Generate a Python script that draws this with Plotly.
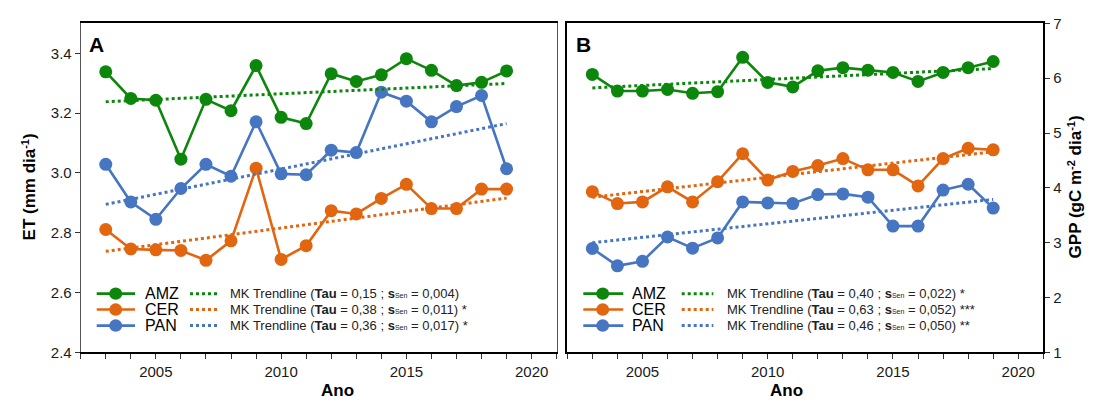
import plotly.graph_objects as go

# ---------------- data ----------------
years = list(range(2003, 2020))
series = ["AMZ", "CER", "PAN"]

et_amz = [3.338, 3.249, 3.243, 3.046, 3.246, 3.208, 3.359, 3.186, 3.165, 3.332, 3.306, 3.328, 3.382, 3.343, 3.292, 3.303, 3.341]
et_cer = [2.811, 2.746, 2.743, 2.741, 2.708, 2.773, 3.016, 2.711, 2.757, 2.874, 2.863, 2.915, 2.962, 2.881, 2.881, 2.946, 2.946]
et_pan = [3.029, 2.903, 2.845, 2.948, 3.029, 2.989, 3.171, 2.997, 2.994, 3.076, 3.068, 3.270, 3.240, 3.171, 3.222, 3.259, 3.014]

gpp_amz = [6.070, 5.766, 5.766, 5.795, 5.725, 5.754, 6.381, 5.924, 5.842, 6.135, 6.193, 6.146, 6.105, 5.941, 6.105, 6.193, 6.305]
gpp_cer = [3.932, 3.715, 3.745, 4.020, 3.745, 4.114, 4.623, 4.143, 4.301, 4.407, 4.535, 4.330, 4.330, 4.037, 4.535, 4.723, 4.694]
gpp_pan = [2.895, 2.579, 2.661, 3.105, 2.901, 3.088, 3.745, 3.727, 3.715, 3.879, 3.891, 3.832, 3.304, 3.304, 3.961, 4.067, 3.632]

trend_years = [2003, 2019]
et_trend = {"AMZ": [3.238, 3.299], "CER": [2.738, 2.916], "PAN": [2.895, 3.165]}
gpp_trend = {"AMZ": [5.824, 6.176], "CER": [3.830, 4.660], "PAN": [3.000, 3.790]}

et_tau = ["0,15", "0,38", "0,36"]
et_sen = ["0,004", "0,011", "0,017"]
et_sig = ["", " *", " *"]
gpp_tau = ["0,40", "0,63", "0,46"]
gpp_sen = ["0,022", "0,052", "0,050"]
gpp_sig = [" *", " ***", " **"]

et_ticks = [2.4, 2.6, 2.8, 3.0, 3.2, 3.4]
gpp_ticks = [1, 2, 3, 4, 5, 6, 7]
year_ticks = [2005, 2010, 2015, 2020]

# ---------------- styling ----------------
colors = {"AMZ": "#0c870c", "CER": "#e2650f", "PAN": "#4675c2"}
FONT = "Liberation Sans, Arial, sans-serif"
W, H = 1101, 418

def px(x):
    return x / W

def py(y):
    return 1 - y / H

fig = go.Figure()

et_vals = {"AMZ": et_amz, "CER": et_cer, "PAN": et_pan}
gpp_vals = {"AMZ": gpp_amz, "CER": gpp_cer, "PAN": gpp_pan}

for vals, trends, xa, ya in [(et_vals, et_trend, "x", "y"), (gpp_vals, gpp_trend, "x2", "y2")]:
    for s in series:
        fig.add_trace(go.Scatter(
            x=years, y=vals[s], mode="lines+markers", name=s,
            line=dict(color=colors[s], width=2.6),
            marker=dict(color=colors[s], size=13),
            xaxis=xa, yaxis=ya, showlegend=False))
    for s in series:
        fig.add_trace(go.Scatter(
            x=trend_years, y=trends[s], mode="lines", name=s + " MK Trendline",
            line=dict(color=colors[s], width=3, dash="dot"),
            xaxis=xa, yaxis=ya, showlegend=False))

# domains
xA = [px(80.7), px(556.7)]
xB = [px(567.3), px(1043.3)]
yD = [py(358), py(15)]

tickfont = dict(family=FONT, size=15, color="#1a1a1a")
common_x = dict(range=[2002, 2021], tickmode="array", tickvals=year_ticks,
                ticks="outside", ticklen=5, tickwidth=1, tickcolor="#333",
                minor=dict(dtick=1, tick0=2002, ticks="outside", ticklen=5, tickcolor="#333", showgrid=False),
                showgrid=False, zeroline=False, tickfont=tickfont,
                showline=True, mirror=True, linecolor="black", linewidth=2)

fig.update_layout(
    width=W, height=H,
    margin=dict(l=0, r=0, t=0, b=0),
    paper_bgcolor="white", plot_bgcolor="white",
    font=dict(family=FONT, color="black"),
    xaxis=dict(domain=xA, anchor="y", **common_x),
    xaxis2=dict(domain=xB, anchor="y2", **common_x),
    yaxis=dict(domain=yD, anchor="x", range=[2.4, 3.5], tickmode="array", tickvals=et_ticks,
               ticktext=[f"{v:.1f}" for v in et_ticks],
               ticks="outside", ticklen=5, tickcolor="#333", showgrid=False, zeroline=False,
               tickfont=tickfont, showline=True, mirror=True, linecolor="#555", linewidth=1),
    yaxis2=dict(domain=yD, anchor="x2", side="right", range=[1, 7], tickmode="array", tickvals=gpp_ticks,
                ticks="outside", ticklen=5, tickcolor="#333", showgrid=False, zeroline=False,
                tickfont=tickfont, showline=True, mirror=True, linecolor="black", linewidth=2),
)

ann = []
shapes = []

SUP = "font-size:11px;baseline-shift:super"

# panel letters
ann.append(dict(text="<b>A</b>", x=px(87), y=py(37), xref="paper", yref="paper", xanchor="left",
                yanchor="middle", showarrow=False, font=dict(family=FONT, size=21, color="black")))
ann.append(dict(text="<b>B</b>", x=px(574), y=py(37), xref="paper", yref="paper", xanchor="left",
                yanchor="middle", showarrow=False, font=dict(family=FONT, size=21, color="black")))

# axis titles
ann.append(dict(text="<b>Ano</b>", x=(xA[0] + xA[1]) / 2, y=py(410), xref="paper", yref="paper",
                showarrow=False, font=dict(family=FONT, size=17, color="black")))
ann.append(dict(text="<b>Ano</b>", x=(xB[0] + xB[1]) / 2, y=py(410), xref="paper", yref="paper",
                showarrow=False, font=dict(family=FONT, size=17, color="black")))
ann.append(dict(text=f"<b>ET (mm dia<span style='{SUP}'>-1</span>)</b>", x=px(17), y=py(186),
                xref="paper", yref="paper", textangle=-90, showarrow=False,
                font=dict(family=FONT, size=17, color="black")))
ann.append(dict(text=f"<b>GPP (gC m<span style='{SUP}'>-2</span> dia<span style='{SUP}'>-1</span>)</b>",
                x=px(1087), y=py(186), xref="paper", yref="paper", textangle=-90, showarrow=False,
                font=dict(family=FONT, size=17, color="black")))

# manual legends
rows_y = [296.7, 313.3, 330.0]
panels = [
    dict(l0=96.7, l1=135.0, mk=115.7, tx=143.3, d0=190.0, d1=218.3, dtx=228.3, tau=et_tau, sen=et_sen, sig=et_sig),
    dict(l0=583.3, l1=623.3, mk=602.7, tx=630.0, d0=681.7, d1=713.3, dtx=725.0, tau=gpp_tau, sen=gpp_sen, sig=gpp_sig),
]
r = 6.5
for p in panels:
    for i, s in enumerate(series):
        yy = rows_y[i]
        c = colors[s]
        shapes.append(dict(type="line", xref="paper", yref="paper", x0=px(p["l0"]), x1=px(p["l1"]),
                           y0=py(yy), y1=py(yy), line=dict(color=c, width=2.6)))
        shapes.append(dict(type="circle", xref="paper", yref="paper", x0=px(p["mk"] - r), x1=px(p["mk"] + r),
                           y0=py(yy + r), y1=py(yy - r), fillcolor=c, line=dict(color=c, width=0)))
        shapes.append(dict(type="line", xref="paper", yref="paper", x0=px(p["d0"]), x1=px(p["d1"]),
                           y0=py(yy), y1=py(yy), line=dict(color=c, width=3, dash="dot")))
        ann.append(dict(text=s, x=px(p["tx"]), y=py(yy), xref="paper", yref="paper", xanchor="left",
                        yanchor="middle", showarrow=False, font=dict(family=FONT, size=16, color="black")))
        label = (f"MK Trendline (<b>Tau</b> = {p['tau'][i]} ; <b>s</b>"
                 f"<span style='font-size:7px'>Sen</span> = {p['sen'][i]}){p['sig'][i]}")
        ann.append(dict(text=label, x=px(p["dtx"]), y=py(yy), xref="paper", yref="paper", xanchor="left",
                        yanchor="middle", showarrow=False, font=dict(family=FONT, size=13, color="#222")))

fig.update_layout(annotations=ann, shapes=shapes)

fig.write_html("out.html")
